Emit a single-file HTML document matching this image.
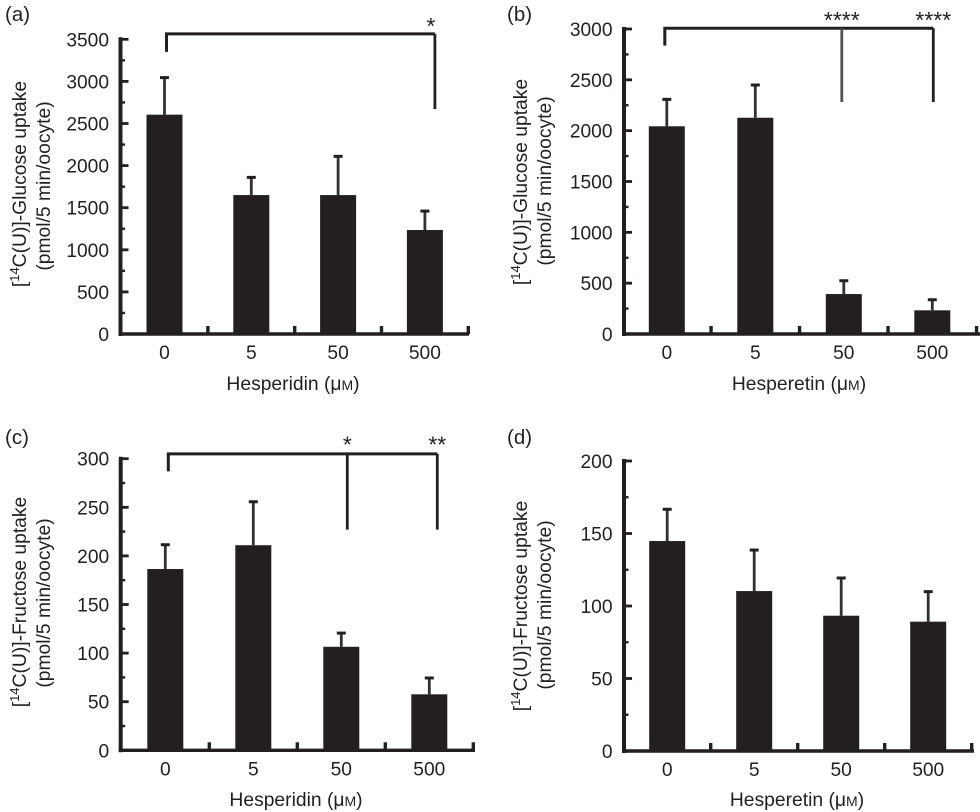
<!DOCTYPE html>
<html lang="en">
<head>
<meta charset="utf-8">
<title>Hesperidin and hesperetin uptake charts</title>
<style>
html,body{margin:0;padding:0;background:#fff;}
svg{display:block;filter:blur(0.35px);}
text{font-family:"Liberation Sans",sans-serif;fill:#231f20;}
.tick{font-size:19.2px;}
.title{font-size:19.3px;}
.panel{font-size:20.5px;}
.star{font-size:23px;}
</style>
</head>
<body>
<svg id="figure" width="980" height="812" viewBox="0 0 980 812" xmlns="http://www.w3.org/2000/svg">
  <rect width="980" height="812" fill="#fff"/>

  <g id="panel-a">
    <text class="panel" x="5" y="21">(a)</text>
    <text class="title" text-anchor="middle" transform="translate(26 184) rotate(-90)">[<tspan font-size="13" dy="-7">14</tspan><tspan dy="7">C(U)]-Glucose uptake</tspan></text>
    <text class="title" text-anchor="middle" transform="translate(50 186) rotate(-90)">(pmol/5 min/oocyte)</text>
    <text class="title" text-anchor="middle" x="293" y="390">Hesperidin (μ<tspan font-size="14">M</tspan>)</text>
  </g>

  <g id="panel-b">
    <text class="panel" x="507" y="21">(b)</text>
    <text class="title" text-anchor="middle" transform="translate(527 182) rotate(-90)">[<tspan font-size="13" dy="-7">14</tspan><tspan dy="7">C(U)]-Glucose uptake</tspan></text>
    <text class="title" text-anchor="middle" transform="translate(551 181) rotate(-90)">(pmol/5 min/oocyte)</text>
    <text class="title" text-anchor="middle" x="799" y="390">Hesperetin (μ<tspan font-size="14">M</tspan>)</text>
  </g>

  <g id="panel-c">
    <text class="panel" x="5" y="444">(c)</text>
    <text class="title" text-anchor="middle" transform="translate(26 602) rotate(-90)">[<tspan font-size="13" dy="-7">14</tspan><tspan dy="7">C(U)]-Fructose uptake</tspan></text>
    <text class="title" text-anchor="middle" transform="translate(50 603) rotate(-90)">(pmol/5 min/oocyte)</text>
    <text class="title" text-anchor="middle" x="296" y="806">Hesperidin (μ<tspan font-size="14">M</tspan>)</text>
  </g>

  <g id="panel-d">
    <text class="panel" x="507" y="444">(d)</text>
    <text class="title" text-anchor="middle" transform="translate(527 606) rotate(-90)">[<tspan font-size="13" dy="-7">14</tspan><tspan dy="7">C(U)]-Fructose uptake</tspan></text>
    <text class="title" text-anchor="middle" transform="translate(551 605) rotate(-90)">(pmol/5 min/oocyte)</text>
    <text class="title" text-anchor="middle" x="797" y="806">Hesperetin (μ<tspan font-size="14">M</tspan>)</text>
  </g>
</svg>

<script>
// ---- chart data ----
const categories = ['0', '5', '50', '500'];

const panelAValues = [2605, 1650, 1650, 1235];
const panelAErrors = [440, 210, 460, 225];
const panelATicks = [0, 500, 1000, 1500, 2000, 2500, 3000, 3500];
const panelABracketTop = [3565];
const panelABracketLegEnds = [3350, 2670];
const panelABracketStars = ['*'];

const panelBValues = [2043, 2127, 393, 233];
const panelBErrors = [265, 322, 131, 104];
const panelBTicks = [0, 500, 1000, 1500, 2000, 2500, 3000];
const panelBBracketTop = [3007];
const panelBBracketLegEnds = [2836, 2282, 2282];
const panelBBracketStars = ['****', '****'];

const panelCValues = [186.5, 211, 106.5, 57.6];
const panelCErrors = [25, 44.7, 14.1, 16.8];
const panelCTicks = [0, 50, 100, 150, 200, 250, 300];
const panelCBracketTop = [305];
const panelCBracketLegEnds = [287, 227, 227];
const panelCBracketStars = ['*', '**'];

const panelDValues = [144.8, 110.3, 93.3, 89.2];
const panelDErrors = [21.9, 28.3, 26, 20.7];
const panelDTicks = [0, 50, 100, 150, 200];

// ---- drawing ----
const NS = 'http://www.w3.org/2000/svg';
const INK = '#231f20';

function make(parent, tag, attrs) {
  const el = document.createElementNS(NS, tag);
  for (const k in attrs) el.setAttribute(k, attrs[k]);
  parent.appendChild(el);
  return el;
}

function drawPanel(opts) {
  const root = document.getElementById(opts.id);
  const p = opts.id;
  const ticks = opts.ticks;
  const maxTick = ticks[ticks.length - 1];
  const y = v => opts.y0 - (v / maxTick) * (opts.y0 - opts.yTop);
  const x = i => opts.x0 + i * opts.step;
  const yEnd = y(maxTick);

  // y axis line
  const yAxis = make(root, 'line', {x1: opts.axisX, x2: opts.axisX, y1: yEnd - 2, y2: opts.y0 + 2, stroke: INK, 'stroke-width': 4});
  
  

  // y ticks + labels + minor ticks
  ticks.forEach((t, i) => {
    const major = make(root, 'line', {x1: opts.axisX, x2: opts.axisX + 8, y1: y(t), y2: y(t), stroke: INK, 'stroke-width': 2.8});
    
    

    const label = make(root, 'text', {class: 'tick', x: opts.axisX - 11.5, y: y(t) + 7, 'text-anchor': 'end'});
    label.textContent = String(t);
    
    

    if (i < ticks.length - 1) {
      const mid = (t + ticks[i + 1]) / 2;
      const minor = make(root, 'line', {x1: opts.axisX, x2: opts.axisX + 4.5, y1: y(mid), y2: y(mid), stroke: INK, 'stroke-width': 2.4});
      
      
    }
  });

  // bars & error bars
  opts.values.forEach((v, i) => {
    const cx = x(i);
    const top = y(v + opts.errors[i]);
    const err = make(root, 'line', {x1: cx, x2: cx, y1: top, y2: y(v), stroke: '#333031', 'stroke-width': 2.8});
    
    

    const cap = make(root, 'line', {x1: cx - 4.5, x2: cx + 4.5, y1: top, y2: top, stroke: INK, 'stroke-width': 3});
    
    

    const bar = make(root, 'rect', {x: cx - 18, y: y(v), width: 36, height: opts.y0 + 1.5 - y(v), fill: INK});
    
    

    const tickLabel = make(root, 'text', {class: 'tick', x: cx, y: opts.y0 + 25, 'text-anchor': 'middle'});
    tickLabel.textContent = categories[i];
    
    

    const xTick = make(root, 'line', {x1: x(i + 0.5), x2: x(i + 0.5), y1: opts.y0 - 8, y2: opts.y0, stroke: INK, 'stroke-width': 3.4});
    
    
  });

  // x axis line
  const xAxis = make(root, 'line', {x1: opts.axisX - 2, x2: opts.axisEnd, y1: opts.y0, y2: opts.y0, stroke: INK, 'stroke-width': 3.4});
  
  

  // significance bracket
  if (opts.bracketTop) {
    const by = y(opts.bracketTop[0]);
    const lx = x(0) + opts.bracketOffsets[0];
    const rx = x(3) + opts.bracketOffsets[opts.bracketOffsets.length - 1];
    const rail = make(root, 'path', {d: 'M' + lx + ' ' + y(opts.bracketLegEnds[0]) + 'V' + by + 'H' + rx, fill: 'none', stroke: INK, 'stroke-width': 3});
    
    

    const legCats = opts.bracketLegEnds.length === 3 ? [2, 3] : [3];
    legCats.forEach((c, j) => {
      const lxi = x(c) + opts.bracketOffsets[j + 1];
      const leg = make(root, 'line', {x1: lxi, x2: lxi, y1: by, y2: y(opts.bracketLegEnds[j + 1]), stroke: (opts.midLegColor && j === 0) ? opts.midLegColor : INK, 'stroke-width': 2.8});
      
      

      const star = make(root, 'text', {class: 'star', x: lxi + opts.starShift, y: by + opts.starDrop, 'text-anchor': 'middle'});
      star.textContent = opts.stars[j];
      
      
    });
  }
}

drawPanel({
  id: 'panel-a', values: panelAValues, errors: panelAErrors, ticks: panelATicks,
  axisX: 120.5, axisEnd: 469, y0: 334, yTop: 39.3, x0: 164.5, step: 86.8,
  bracketTop: panelABracketTop, bracketLegEnds: panelABracketLegEnds, stars: panelABracketStars,
  bracketOffsets: [2, 10], starShift: -4, starDrop: 0
});
drawPanel({
  id: 'panel-b', values: panelBValues, errors: panelBErrors, ticks: panelBTicks,
  axisX: 624, axisEnd: 980, y0: 334, yTop: 29, x0: 666.8, step: 88.5,
  bracketTop: panelBBracketTop, bracketLegEnds: panelBBracketLegEnds, stars: panelBBracketStars,
  bracketOffsets: [-2, -2, 1], starShift: 0, starDrop: -0.5, midLegColor: '#55514f'
});
drawPanel({
  id: 'panel-c', values: panelCValues, errors: panelCErrors, ticks: panelCTicks,
  axisX: 120.7, axisEnd: 475, y0: 750.3, yTop: 458.7, x0: 165.3, step: 88,
  bracketTop: panelCBracketTop, bracketLegEnds: panelCBracketLegEnds, stars: panelCBracketStars,
  bracketOffsets: [3, 6, 8], starShift: 0, starDrop: -1.5
});
drawPanel({
  id: 'panel-d', values: panelDValues, errors: panelDErrors, ticks: panelDTicks,
  axisX: 624, axisEnd: 974, y0: 751, yTop: 461, x0: 667.2, step: 87
});
</script>
</body>
</html>
